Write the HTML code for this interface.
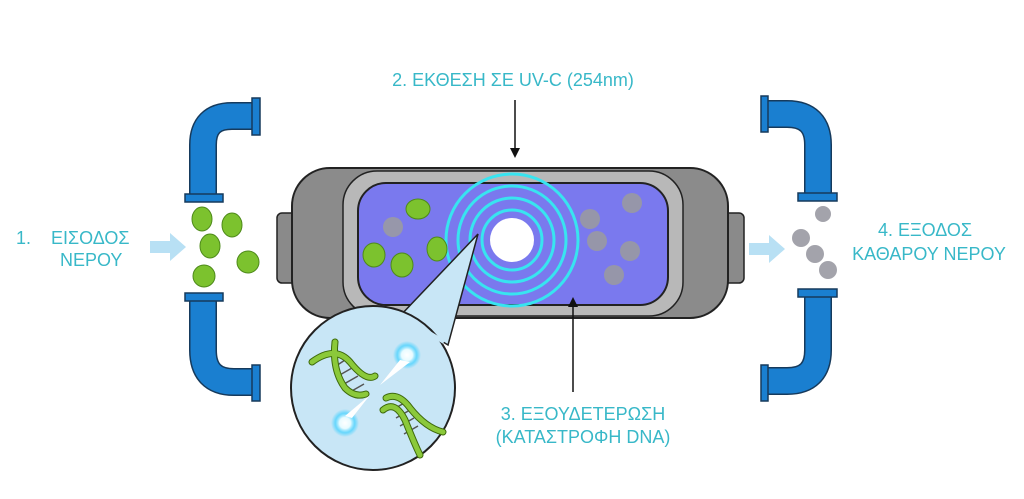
<!DOCTYPE html>
<html><head><meta charset="utf-8"><style>
html,body{margin:0;padding:0;background:#fff;}
svg{display:block}
text{font-family:"Liberation Sans",sans-serif;fill:#38b8c8;}
</style></head><body>
<svg width="1024" height="499" viewBox="0 0 1024 499" xmlns="http://www.w3.org/2000/svg">
<defs>
<marker id="ah" markerWidth="10" markerHeight="10" refX="8" refY="5" orient="auto" markerUnits="userSpaceOnUse"><path d="M0,0 L10,5 L0,10 Z" fill="#111"/></marker>
<radialGradient id="glow"><stop offset="0" stop-color="#fff"/><stop offset="0.4" stop-color="#e8fbff"/><stop offset="0.7" stop-color="#40d0ff" stop-opacity="0.7"/><stop offset="1" stop-color="#40d0ff" stop-opacity="0"/></radialGradient>
</defs>
<rect width="1024" height="499" fill="#fff"/>

<!-- pipes -->
<g fill="none" stroke-linecap="butt">
<path d="M203,196 V145 Q203,116 232,116 H252" stroke="#163a5c" stroke-width="28"/>
<path d="M203,196 V145 Q203,116 232,116 H252" stroke="#1a7fd0" stroke-width="25"/>
<path d="M203,296 V350 Q203,382 234,382 H252" stroke="#163a5c" stroke-width="28"/>
<path d="M203,296 V350 Q203,382 234,382 H252" stroke="#1a7fd0" stroke-width="25"/>
<path d="M818,196 V145 Q818,114 787,114 H766" stroke="#163a5c" stroke-width="28"/>
<path d="M818,196 V145 Q818,114 787,114 H766" stroke="#1a7fd0" stroke-width="25"/>
<path d="M818,290 V350 Q818,381 787,381 H766" stroke="#163a5c" stroke-width="28"/>
<path d="M818,290 V350 Q818,381 787,381 H766" stroke="#1a7fd0" stroke-width="25"/>
</g>
<g fill="#1a7fd0" stroke="#163a5c" stroke-width="1.5">
<rect x="252" y="98" width="8" height="37"/>
<rect x="252" y="365" width="8" height="36"/>
<rect x="185" y="194" width="38" height="8"/>
<rect x="185" y="293" width="38" height="8"/>
<rect x="761" y="96" width="7" height="36"/>
<rect x="761" y="365" width="7" height="36"/>
<rect x="798" y="193" width="39" height="8"/>
<rect x="798" y="289" width="39" height="8"/>
</g>

<!-- arrows light blue -->
<path d="M150,241 H170 V233 L186,247 L170,261 V253 H150 Z" fill="#b8e0f4"/>
<path d="M749,243 H769 V235 L785,249 L769,263 V255 H749 Z" fill="#b8e0f4"/>

<!-- device -->
<rect x="277" y="213" width="22" height="70" rx="5" fill="#8a8a8a" stroke="#222" stroke-width="1.5"/>
<rect x="722" y="213" width="22" height="70" rx="5" fill="#8a8a8a" stroke="#222" stroke-width="1.5"/>
<rect x="292" y="168" width="436" height="150" rx="38" fill="#8b8b8b" stroke="#222" stroke-width="2"/>
<rect x="343" y="171" width="340" height="145" rx="34" fill="#b8b8b8" stroke="#222" stroke-width="1.5"/>
<rect x="358" y="183" width="310" height="122" rx="28" fill="#7a79ee" stroke="#222" stroke-width="2"/>
<g fill="none" stroke="#38e4f0" stroke-width="3">
<circle cx="512" cy="240" r="30"/><circle cx="512" cy="240" r="42"/><circle cx="512" cy="240" r="54"/><circle cx="512" cy="240" r="66"/>
</g>
<circle cx="512" cy="240" r="22" fill="#fff"/>

<!-- microbes -->
<g fill="#7cc22e" stroke="#4e8a1a" stroke-width="1">
<ellipse cx="418" cy="209" rx="12" ry="10"/>
<ellipse cx="374" cy="255" rx="11" ry="12"/>
<ellipse cx="402" cy="265" rx="11" ry="12"/>
<ellipse cx="437" cy="249" rx="10" ry="12"/>
<ellipse cx="202" cy="219" rx="10" ry="12"/>
<ellipse cx="232" cy="225" rx="10" ry="12"/>
<ellipse cx="210" cy="246" rx="10" ry="12"/>
<ellipse cx="248" cy="262" rx="11" ry="11"/>
<ellipse cx="204" cy="276" rx="11" ry="11"/>
</g>
<g fill="#444" font-size="5"></g>
<g fill="#9a9aa2" opacity="0.9">
<circle cx="393" cy="227" r="10"/>
<circle cx="632" cy="203" r="10"/>
<circle cx="597" cy="241" r="10"/>
<circle cx="590" cy="219" r="10"/>
<circle cx="630" cy="251" r="10"/>
<circle cx="614" cy="275" r="10"/>
<circle cx="823" cy="214" r="8"/>
<circle cx="801" cy="238" r="9"/>
<circle cx="815" cy="254" r="9"/>
<circle cx="828" cy="270" r="9"/>
</g>

<!-- callout -->
<path d="M478,234 L400,316 L448,345 Z" fill="#c8e6f6" stroke="#222" stroke-width="1.5"/>
<circle cx="373" cy="388" r="82" fill="#c8e6f6" stroke="#222" stroke-width="2"/>
<path d="M405,318 L444,342" stroke="#c8e6f6" stroke-width="4"/>
<g fill="none" stroke="#555" stroke-width="1.5">
<path d="M333,368 L345,360 M338,376 L352,368 M344,384 L358,376 M350,392 L364,384"/>
<path d="M392,410 L406,402 M396,418 L410,410 M400,426 L414,418 M404,434 L418,426"/>
</g>
<g fill="none" stroke="#3e6a0c" stroke-width="7" stroke-linecap="round">
<path d="M312,362 Q335,345 350,362 Q366,382 375,376"/>
<path d="M335,342 Q332,370 345,388 Q355,398 366,394"/>
<path d="M386,398 Q398,392 410,408 Q426,428 443,432"/>
<path d="M383,410 Q395,400 405,420 Q415,445 420,455"/>
</g>
<g fill="none" stroke="#8bc93a" stroke-width="5" stroke-linecap="round">
<path d="M312,362 Q335,345 350,362 Q366,382 375,376"/>
<path d="M335,342 Q332,370 345,388 Q355,398 366,394"/>
<path d="M386,398 Q398,392 410,408 Q426,428 443,432"/>
<path d="M383,410 Q395,400 405,420 Q415,445 420,455"/>
</g>
<circle cx="407" cy="355" r="14" fill="url(#glow)"/>
<circle cx="345" cy="423" r="14" fill="url(#glow)"/>
<path d="M400,360 L380,385 L410,362 Z" fill="#fff"/>
<path d="M352,418 L370,395 L345,416 Z" fill="#fff"/>

<!-- leader arrows -->
<line x1="515" y1="100" x2="515" y2="156" stroke="#111" stroke-width="1.5" marker-end="url(#ah)"/>
<line x1="573" y1="392" x2="573" y2="299" stroke="#111" stroke-width="1.5" marker-end="url(#ah)"/>

<!-- labels -->
<text x="513" y="86" font-size="18" text-anchor="middle">2. ΕΚΘΕΣΗ ΣΕ UV-C (254nm)</text>
<text x="583" y="420" font-size="18" text-anchor="middle">3. ΕΞΟΥΔΕΤΕΡΩΣΗ</text>
<text x="583" y="443" font-size="18" text-anchor="middle">(ΚΑΤΑΣΤΡΟΦΗ DNA)</text>
<text x="16" y="244" font-size="18" xml:space="preserve">1.    ΕΙΣΟΔΟΣ</text>
<text x="60" y="266" font-size="18">ΝΕΡΟΥ</text>
<text x="925" y="236" font-size="18" text-anchor="middle">4. ΕΞΟΔΟΣ</text>
<text x="929" y="260" font-size="18" text-anchor="middle">ΚΑΘΑΡΟΥ ΝΕΡΟΥ</text>
</svg>
</body></html>
